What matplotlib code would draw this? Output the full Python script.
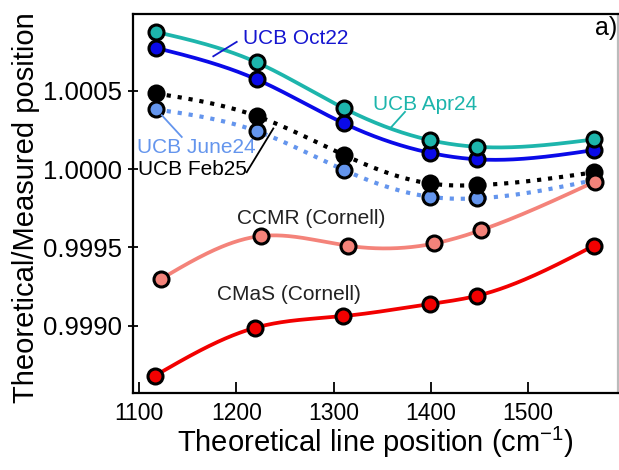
import numpy as np
import matplotlib
matplotlib.use("Agg")
import matplotlib.pyplot as plt
from matplotlib.ticker import StrMethodFormatter

plt.rcParams['font.family'] = ['Liberation Sans', 'DejaVu Sans']
plt.rcParams['mathtext.fontset'] = 'custom'
plt.rcParams['mathtext.rm'] = 'Liberation Sans'
plt.rcParams['mathtext.it'] = 'Liberation Sans:italic'

# ---- data ----
x_ucb = [1117, 1221, 1311, 1399, 1448, 1568]
x_ccmr = [1122, 1225, 1315, 1404, 1452, 1569]
x_cmas = [1116, 1219, 1310, 1399, 1448, 1568]

apr24 = [1.000876, 1.000681, 1.000387, 1.000185, 1.000142, 1.000189]
oct22 = [1.000774, 1.000572, 1.000291, 1.000104, 1.000062, 1.000121]
feb25 = [1.000483, 1.000338, 1.000089, 0.999908, 0.999897, 0.999979]
june24 = [1.000381, 1.000242, 0.999993, 0.999823, 0.999813, 0.999929]
ccmr = [0.999297, 0.999572, 0.999510, 0.999525, 0.999610, 0.999919]
cmas = [0.998680, 0.998986, 0.999061, 0.999138, 0.999191, 0.999510]

xticks = [1100, 1200, 1300, 1400, 1500]
yticks = [0.9990, 0.9995, 1.0000, 1.0005]


def natural_spline(x, y, num=300):
    x = np.asarray(x, float)
    y = np.asarray(y, float) - 1.0
    n = len(x) - 1
    h = np.diff(x)
    A = np.zeros((n - 1, n - 1))
    r = np.zeros(n - 1)
    for i in range(n - 1):
        A[i, i] = 2 * (h[i] + h[i + 1])
        if i + 1 < n - 1:
            A[i, i + 1] = h[i + 1]
            A[i + 1, i] = h[i + 1]
        r[i] = 6 * ((y[i + 2] - y[i + 1]) / h[i + 1] - (y[i + 1] - y[i]) / h[i])
    M = np.zeros(n + 1)
    M[1:n] = np.linalg.solve(A, r)
    xs = np.linspace(x[0], x[-1], num)
    ys = np.zeros_like(xs)
    for k, xv in enumerate(xs):
        i = min(np.searchsorted(x, xv, side='right') - 1, n - 1)
        i = max(i, 0)
        t0 = x[i + 1] - xv
        t1 = xv - x[i]
        ys[k] = (M[i] * t0 ** 3 / (6 * h[i]) + M[i + 1] * t1 ** 3 / (6 * h[i])
                 + (y[i] / h[i] - M[i] * h[i] / 6) * t0
                 + (y[i + 1] / h[i] - M[i + 1] * h[i] / 6) * t1)
    return xs, ys + 1.0


fig = plt.figure(figsize=(6.19, 4.70), dpi=100)
ax = fig.add_axes([0.2144, 0.1645, 0.7840, 0.8057])

series = [
    (x_ucb, june24, '#6495ED', ':'),
    (x_ucb, feb25, 'black', ':'),
    (x_ucb, oct22, '#0A0AE8', '-'),
    (x_ucb, apr24, '#1DB5AC', '-'),
    (x_cmas, cmas, '#F20000', '-'),
    (x_ccmr, ccmr, '#F4837A', '-'),
]

for xs_, ys_, col, ls in series:
    sx, sy = natural_spline(xs_, ys_)
    ax.plot(sx, sy, color=col, ls=ls, lw=2.7 if ls == '-' else 3.0, zorder=2)
for xs_, ys_, col, ls in series:
    ax.plot(xs_, ys_, 'o', color=col, ms=10.8, mec='black', mew=2.2, zorder=3)

ax.set_xlim(1093.2, 1593)
ax.set_ylim(0.998572, 1.00099)
ax.set_xticks(xticks)
ax.set_yticks(yticks)
ax.yaxis.set_major_formatter(StrMethodFormatter('{x:.4f}'))
ax.tick_params(axis='x', direction='in', length=8, width=1.3, labelsize=16.5, pad=7)
ax.tick_params(axis='y', direction='inout', length=7, width=1.3, labelsize=18.5, pad=4)
for s in ax.spines.values():
    s.set_linewidth(1.6)
ax.spines['right'].set_color('#bbbbbb')

ax.set_xlabel(r'Theoretical line position (cm$^{-1}$)', fontsize=21)
ax.set_ylabel('Theoretical/Measured position', fontsize=21)
ax.xaxis.set_label_coords(0.5, -0.085)
ax.yaxis.set_label_coords(-0.192, 0.49)

fs = 15
ax.text(1207.1, 1.000801, 'UCB Oct22', color='#1515D0', fontsize=fs, va='baseline')
ax.plot([1200.3, 1176.2], [1.000812, 1.000720], color='#1515D0', lw=1.3, zorder=4)
ax.text(1341, 1.000375, 'UCB Apr24', color='#1DB5AC', fontsize=fs, va='baseline')
ax.plot([1373.6, 1358.2], [1.000365, 1.000259], color='#1DB5AC', lw=1.3, zorder=4)
ax.text(1097.3, 1.000101, 'UCB June24', color='#6495ED', fontsize=fs, va='baseline')
ax.plot([1123.1, 1143.7], [1.000344, 1.000205], color='#6495ED', lw=1.3, zorder=4)
ax.text(1099.0, 0.999960, 'UCB Feb25', color='black', fontsize=fs, va='baseline')
ax.plot([1210.6, 1238.0], [0.999980, 1.000259], color='black', lw=1.3, zorder=4)
ax.text(1200.3, 0.999652, 'CCMR (Cornell)', color='#222222', fontsize=fs, va='baseline')
ax.text(1179.7, 0.999162, 'CMaS (Cornell)', color='#222222', fontsize=fs, va='baseline')
ax.text(0.9526, 0.9446, 'a)', transform=ax.transAxes, fontsize=18, va='baseline')

fig.savefig('out.png', dpi=100)
